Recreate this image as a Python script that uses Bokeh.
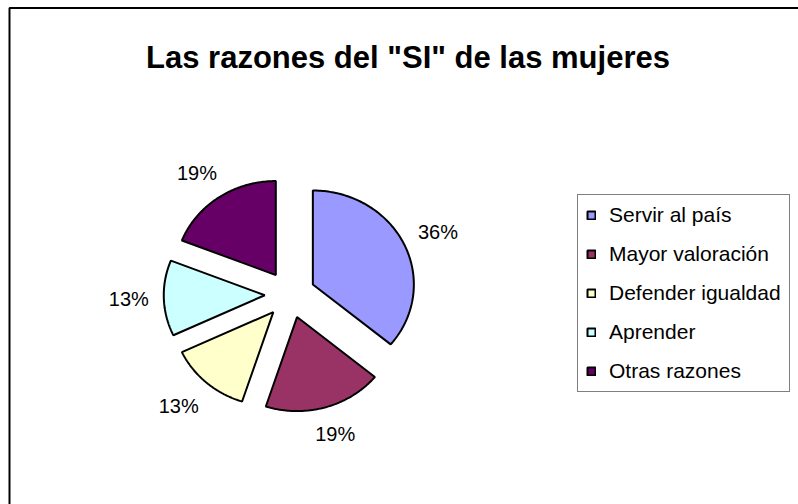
import numpy as np
from bokeh.plotting import figure
from bokeh.models import BoxAnnotation, Legend, LegendItem, Label
from bokeh.core.properties import value
from bokeh.embed import file_html
from bokeh.resources import INLINE

# ---------------- data ----------------
title = 'Las razones del "SI" de las mujeres'
categories = ["Servir al país", "Mayor valoración", "Defender igualdad", "Aprender", "Otras razones"]
percentages = [36, 19, 13, 13, 19]
colors = ["#9999FF", "#993366", "#FFFFCC", "#CCFFFF", "#660066"]

# ---------------- layout ----------------
W, H = 798, 504
FONT = "Liberation Sans"

p = figure(width=W, height=H, x_range=(0, W), y_range=(0, H),
           output_backend="svg", toolbar_location=None, min_border=0,
           x_axis_location=None, y_axis_location=None)
p.grid.visible = False
p.outline_line_color = None
p.background_fill_color = "white"
p.border_fill_color = "white"

# chart area border (left / top visible, rest cropped)
p.add_layout(BoxAnnotation(left=9, top=H - 7.5, right=W + 20, bottom=-20,
                           fill_alpha=0, line_color="black", line_alpha=1.0,
                           line_width=2))

# title
p.add_layout(Label(x=407.5, y=H - 56.5, text=title, text_align="center",
                   text_baseline="alphabetic", text_font=FONT,
                   text_font_style="bold", text_font_size="31px",
                   text_color="black"))

# pie geometry
cx, cy = 289.5, H - 294.0
rx, ry = 101.0, 94.0
explode = 0.25
gap = 14.0
lab_w, lab_h = 42.0, 26.0

total = float(sum(percentages))
cum = 0.0
items = []
lx, ly, ltxt = [], [], []
for cat, pct, col in zip(categories, percentages, colors):
    a0 = cum / total * 2 * np.pi
    a1 = (cum + pct) / total * 2 * np.pi
    cum += pct
    mid = 0.5 * (a0 + a1)
    ux, uy = np.sin(mid), np.cos(mid)
    ox = cx + explode * rx * ux
    oy = cy + explode * ry * uy
    t = np.linspace(a0, a1, 120)
    xs = np.concatenate([[ox], ox + rx * np.sin(t), [ox]])
    ys = np.concatenate([[oy], oy + ry * np.cos(t), [oy]])
    r = p.patch(xs, ys, fill_color=col, line_color="black", line_width=2)
    items.append(LegendItem(label=cat, renderers=[r]))
    # data label just outside the exploded slice
    px_, py_ = ox + rx * ux, oy + ry * uy
    m = max(abs(ux), abs(uy))
    sx, sy = ux / m, uy / m
    lx.append(px_ + gap * ux + lab_w / 2 * sx)
    ly.append(py_ + gap * uy + lab_h / 2 * sy)
    ltxt.append(f"{round(pct / total * 100)}%")

p.text(x=lx, y=ly, text=ltxt, text_align="center", text_baseline="middle",
       text_font=value(FONT), text_font_size="20px", text_color="black")

legend = Legend(items=items, location=(577, 112), orientation="vertical",
                label_text_font=FONT, label_text_font_size="21px",
                label_text_color="black",
                glyph_width=10, glyph_height=10, label_height=23,
                label_standoff=13, spacing=15, padding=8, margin=0,
                border_line_color="black", border_line_width=1.5,
                background_fill_color="white", background_fill_alpha=1.0)
p.add_layout(legend)

open("out.html", "w").write(file_html(p, INLINE))
